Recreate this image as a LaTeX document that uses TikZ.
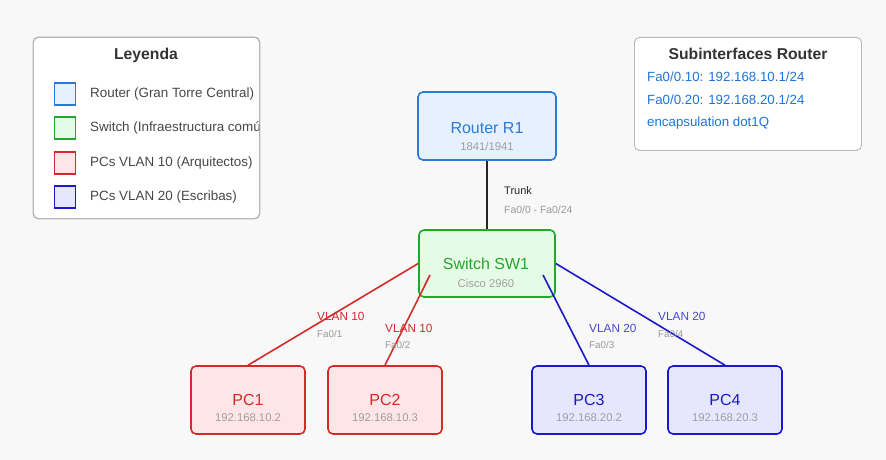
\documentclass[tikz,border=0pt]{standalone}
\usepackage{fontspec}
\setmainfont{Liberation Sans}
\begin{document}
\begin{tikzpicture}[x=1pt,y=-1pt,
  panel/.style={draw=black!28,fill=white,rounded corners=5pt,line width=0.9pt},
  dev/.style={rounded corners=5pt,line width=1.6pt,inner sep=0pt},
  rtr/.style={dev,draw=rtrc,fill=rtrf},
  swt/.style={dev,draw=swc,fill=swf},
  pcr/.style={dev,draw=redc,fill=redf},
  pcb/.style={dev,draw=bluc,fill=bluf},
  sq/.style={line width=1.4pt,minimum width=21pt,minimum height=22pt,inner sep=0pt},
  ttl/.style={font=\fontsize{16}{18}\selectfont},
  sub/.style={font=\fontsize{11.3}{13}\selectfont,text=gray!75},
  hdr/.style={font=\bfseries\fontsize{15.7}{18}\selectfont,text=black!80},
  leg/.style={anchor=west,font=\fontsize{13.4}{15}\selectfont,text=black!72,inner sep=0pt},
  inf/.style={anchor=west,font=\fontsize{13.3}{15}\selectfont,text=infc,inner sep=0pt},
  vl/.style={anchor=west,font=\fontsize{11.8}{13}\selectfont,inner sep=0pt},
  fa/.style={anchor=west,font=\fontsize{9.8}{11}\selectfont,text=gray!80,inner sep=0pt},
  lnk/.style={line width=1.6pt}
]
\definecolor{bg}{HTML}{F8F8F8}
\definecolor{rtrc}{HTML}{2B7BD6}
\definecolor{rtrf}{HTML}{E6F0FF}
\definecolor{swc}{HTML}{22A82A}
\definecolor{swf}{HTML}{E6FBE6}
\definecolor{redc}{HTML}{D42A2A}
\definecolor{redf}{HTML}{FFE5E5}
\definecolor{bluc}{HTML}{1A1ACC}
\definecolor{bluf}{HTML}{E6E6FF}
\definecolor{infc}{HTML}{1E74D6}
\fill[bg] (0,0) rectangle (886,460);
\useasboundingbox (0,0) rectangle (886,460);

% Legend
\node[panel,minimum width=226pt,minimum height=181pt,anchor=north west] (legbox) at (33,37) {};
\node[hdr] (legt) at (146,55) {Leyenda};
\node[sq,draw=rtrc,fill=rtrf] (s1) at (65,94) {};
\node[sq,draw=swc,fill=swf] (s2) at (65,128) {};
\node[sq,draw=redc,fill=redf] (s3) at (65,163) {};
\node[sq,draw=bluc,fill=bluf] (s4) at (65,197) {};
\begin{scope}
\clip (33,37) rectangle (259,218);
\node[leg] (l1) at (90,94) {Router (Gran Torre Central)};
\node[leg] (l2) at (90,128) {Switch (Infraestructura común)};
\node[leg] (l3) at (90,163) {PCs VLAN 10 (Arquitectos)};
\node[leg] (l4) at (90,197) {PCs VLAN 20 (Escribas)};
\end{scope}
\draw[draw=black!28,rounded corners=5pt,line width=0.9pt] (legbox.north west) rectangle (legbox.south east);

% Subinterfaces
\node[panel,minimum width=227pt,minimum height=113pt,anchor=north west] (subbox) at (634,37) {};
\node[hdr] (subt) at (748,54) {Subinterfaces Router};
\node[inf] (i1) at (647,77) {Fa0/0.10: 192.168.10.1/24};
\node[inf] (i2) at (647,100) {Fa0/0.20: 192.168.20.1/24};
\node[inf] (i3) at (647,123) {encapsulation dot1Q};

% Devices
\node[rtr,minimum width=138pt,minimum height=68pt] (r1) at (487,126) {};
\node[ttl,text=rtrc] (r1t) at (487,128) {Router R1};
\node[sub] (r1s) at (487,146) {1841/1941};

\node[swt,minimum width=136pt,minimum height=67pt] (sw) at (487,263.5) {};
\node[ttl,text=swc] (swt) at (486,264) {Switch SW1};
\node[sub] (sws) at (486,283) {Cisco 2960};

\node[pcr,minimum width=114pt,minimum height=68pt] (pc1) at (248,400) {};
\node[ttl,text=redc] (pc1t) at (248,400) {PC1};
\node[sub] (pc1s) at (248,418) {192.168.10.2};
\node[pcr,minimum width=114pt,minimum height=68pt] (pc2) at (385,400) {};
\node[ttl,text=redc] (pc2t) at (385,400) {PC2};
\node[sub] (pc2s) at (385,418) {192.168.10.3};
\node[pcb,minimum width=114pt,minimum height=68pt] (pc3) at (589,400) {};
\node[ttl,text=bluc] (pc3t) at (589,400) {PC3};
\node[sub] (pc3s) at (589,418) {192.168.20.2};
\node[pcb,minimum width=114pt,minimum height=68pt] (pc4) at (725,400) {};
\node[ttl,text=bluc] (pc4t) at (725,400) {PC4};
\node[sub] (pc4s) at (725,418) {192.168.20.3};

% Links
\coordinate (p2a) at (430,275);
\coordinate (p3a) at (543,275);
\draw[lnk,black!85] (r1.south) -- (sw.north);
\draw[lnk,redc] (sw.west) -- (pc1.north);
\draw[lnk,redc] (p2a) -- (pc2.north);
\draw[lnk,bluc] (p3a) -- (pc3.north);
\draw[lnk,bluc] (sw.east) -- (pc4.north);

% Link labels
\node[vl,text=black!85,font=\fontsize{11}{12}\selectfont] (tr) at (504,191) {Trunk};
\node[fa,font=\fontsize{10.4}{12}\selectfont] (trf) at (504,210) {Fa0/0 - Fa0/24};
\node[vl,text=redc] (v1) at (317,316) {VLAN 10};
\node[fa] (f1) at (317,334) {Fa0/1};
\node[vl,text=redc] (v2) at (385,328) {VLAN 10};
\node[fa] (f2) at (385,345) {Fa0/2};
\node[vl,text=bluc!80!white] (v3) at (589,328) {VLAN 20};
\node[fa] (f3) at (589,345) {Fa0/3};
\node[vl,text=bluc!80!white] (v4) at (658,316) {VLAN 20};
\node[fa] (f4) at (658,334) {Fa0/4};
\end{tikzpicture}
\end{document}
